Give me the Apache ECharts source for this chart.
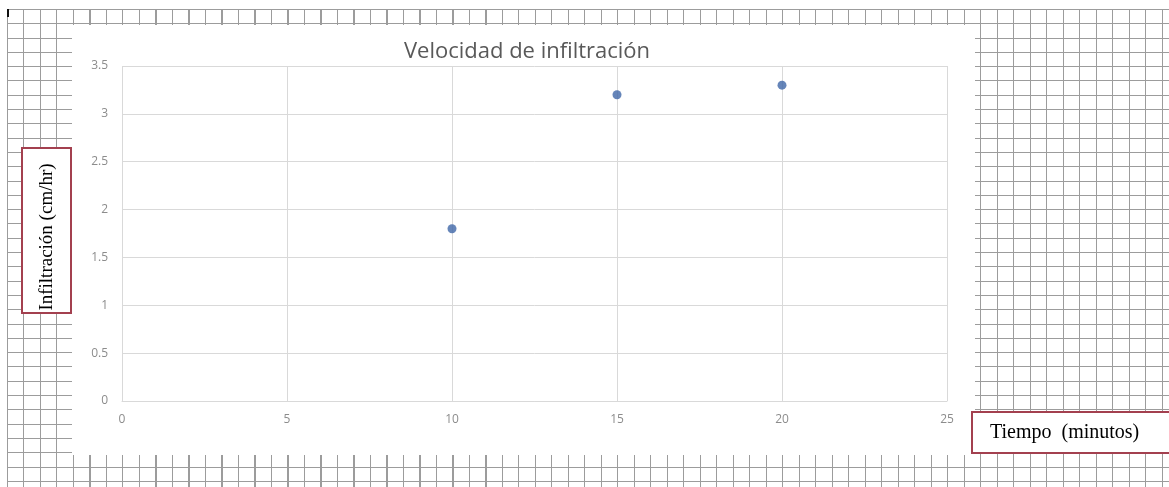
<!DOCTYPE html>
<html>
<head>
<meta charset="utf-8">
<script src="https://cdn.jsdelivr.net/npm/echarts@6/dist/echarts.min.js"></script>
<style>
  html, body { margin: 0; padding: 0; background: #fff; }
  #wrap { position: relative; width: 1169px; height: 487px; overflow: hidden; }
  /* squared worksheet paper behind the chart */
  #paper {
    position: absolute; left: 7px; top: 9px; right: 0; bottom: 0;
    background-color: #fff;
    background-image:
      repeating-linear-gradient(to right, #9c9c9c 0, #9c9c9c 1px, transparent 1px, transparent 16.5px),
      repeating-linear-gradient(to bottom, #9c9c9c 0, #9c9c9c 1px, transparent 1px, transparent 14.3px);
  }
  #mark { position: absolute; left: 7px; top: 9px; width: 2px; height: 8px; background: #111; }
  #chart { position: absolute; left: 0; top: 0; width: 1169px; height: 487px; }
</style>
</head>
<body>
<div id="wrap">
  <div id="paper"></div>
  <div id="mark"></div>
  <div id="chart"></div>
</div>
<script>
// Infiltration rate measured over time
const tiempo = [10, 15, 20];          // minutes
const infiltracion = [1.8, 3.2, 3.3]; // cm/hr
const xTicks = [0, 5, 10, 15, 20, 25];
const yTicks = [0, 0.5, 1, 1.5, 2, 2.5, 3, 3.5];

const chart = echarts.init(document.getElementById('chart'), null, { renderer: 'canvas' });

const gridColor = '#d9d9d9';
const labelColor = '#8c8c8c';
const boxColor = '#a3404f';

chart.setOption({
  backgroundColor: 'transparent',
  animation: false,
  title: {
    text: 'Velocidad de infiltración',
    left: 522, top: 36, textAlign: 'center',
    textStyle: { fontFamily: 'Open Sans', fontWeight: 'normal', fontSize: 22, color: '#595959' }
  },
  grid: { left: 122, right: 222, top: 66, bottom: 86, containLabel: false },
  xAxis: {
    type: 'value',
    min: xTicks[0], max: xTicks[xTicks.length - 1], interval: 5,
    axisLine: { show: true, lineStyle: { color: gridColor, width: 1 } },
    axisTick: { show: false },
    axisLabel: { color: labelColor, fontSize: 12, fontFamily: 'Open Sans', margin: 13 },
    splitLine: { show: true, lineStyle: { color: gridColor, width: 1 } }
  },
  yAxis: {
    type: 'value',
    min: yTicks[0], max: yTicks[yTicks.length - 1], interval: 0.5,
    axisLine: { show: false },
    axisTick: { show: false },
    axisLabel: { color: labelColor, fontSize: 12, fontFamily: 'Open Sans', margin: 14 },
    splitLine: { show: true, lineStyle: { color: gridColor, width: 1 } }
  },
  graphic: [
    // white chart area
    { type: 'rect', z: -10, silent: true,
      shape: { x: 72, y: 25, width: 903, height: 430 },
      style: { fill: '#ffffff' } },
    // y-axis title box
    { type: 'rect', z: 10, silent: true,
      shape: { x: 22, y: 148, width: 49, height: 165 },
      style: { fill: '#ffffff', stroke: boxColor, lineWidth: 2 } },
    { type: 'text', z: 11, silent: true,
      x: 47, y: 237, rotation: Math.PI / 2,
      style: { text: 'Infiltración (cm/hr)', fontFamily: 'Liberation Serif', fontSize: 19,
               fill: '#000', align: 'center', verticalAlign: 'middle' } },
    // x-axis title box
    { type: 'rect', z: 10, silent: true,
      shape: { x: 972, y: 412, width: 220, height: 41 },
      style: { fill: '#ffffff', stroke: boxColor, lineWidth: 2 } },
    { type: 'text', z: 11, silent: true,
      x: 990, y: 433,
      style: { text: 'Tiempo  (minutos)', fontFamily: 'Liberation Serif', fontSize: 20,
               fill: '#000', align: 'left', verticalAlign: 'middle' } }
  ],
  series: [{
    type: 'scatter',
    data: tiempo.map((t, i) => [t, infiltracion[i]]),
    symbol: 'circle',
    symbolSize: 9,
    itemStyle: { color: '#3f67a8' }
  }]
});
</script>
</body>
</html>
